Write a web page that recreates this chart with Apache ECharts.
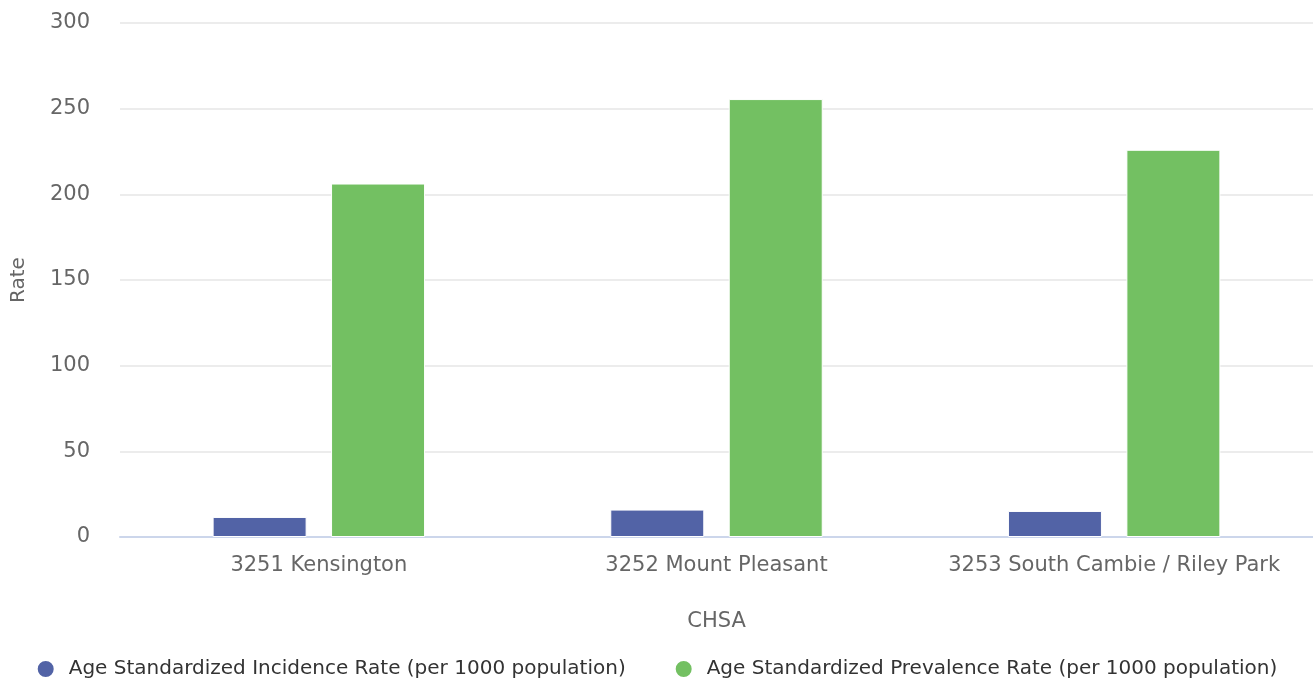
<!DOCTYPE html>
<html>
<head>
<meta charset="utf-8">
<script src="https://cdn.jsdelivr.net/npm/echarts@6/dist/echarts.min.js"></script>
<style>html,body{margin:0;padding:0;background:#fff}#c{width:1313px;height:679px}</style>
</head>
<body>
<div id="c"></div>
<script>
const categories = ['3251 Kensington', '3252 Mount Pleasant', '3253 South Cambie / Riley Park'];
const incidence = [11.7, 16.0, 15.2];
const prevalence = [206.3, 255.6, 226.0];
const seriesNames = ['Age Standardized Incidence Rate (per 1000 population)', 'Age Standardized Prevalence Rate (per 1000 population)'];
const yTicks = [0, 50, 100, 150, 200, 250, 300];

const FONT = 'DejaVu Sans';
const chart = echarts.init(document.getElementById('c'), null, {renderer: 'canvas'});
chart.setOption({
  animation: false,
  textStyle: {fontFamily: FONT},
  color: ['#5263a6', '#73c062'],
  grid: {left: 120, right: 0, top: 23, bottom: 142, outerBoundsMode: 'none', containLabel: false},
  legend: {
    data: seriesNames,
    top: 654,
    left: 'center',
    icon: 'circle',
    itemWidth: 18, itemHeight: 18,
    itemGap: 48,
    textStyle: {fontSize: 20, color: '#333', fontFamily: FONT, padding: [0, 0, 0, 9]}
  },
  xAxis: {
    type: 'category',
    data: categories,
    name: 'CHSA',
    nameLocation: 'middle',
    nameGap: 74,
    nameTextStyle: {fontSize: 21, color: '#666', fontFamily: FONT},
    axisLine: {lineStyle: {color: '#ccd6eb', width: 2}},
    axisTick: {show: false},
    axisLabel: {fontSize: 21, color: '#666', margin: 18, interval: 0, fontFamily: FONT}
  },
  yAxis: {
    type: 'value',
    min: yTicks[0], max: yTicks[yTicks.length - 1], interval: 50,
    name: 'Rate',
    nameLocation: 'middle',
    nameGap: 91,
    nameRotate: 90,
    nameTextStyle: {fontSize: 20, color: '#666', fontFamily: FONT},
    axisLine: {show: false},
    axisTick: {show: false},
    axisLabel: {fontSize: 21, color: '#666', margin: 30, fontFamily: FONT},
    splitLine: {lineStyle: {color: '#e6e6e6', width: 1.5}}
  },
  series: [
    {name: seriesNames[0], type: 'bar', data: incidence, barWidth: 94, barGap: '26%',
     itemStyle: {borderColor: '#fff', borderWidth: 1}},
    {name: seriesNames[1], type: 'bar', data: prevalence, barWidth: 94, barGap: '26%',
     itemStyle: {borderColor: '#fff', borderWidth: 1}}
  ]
});
</script>
</body>
</html>
